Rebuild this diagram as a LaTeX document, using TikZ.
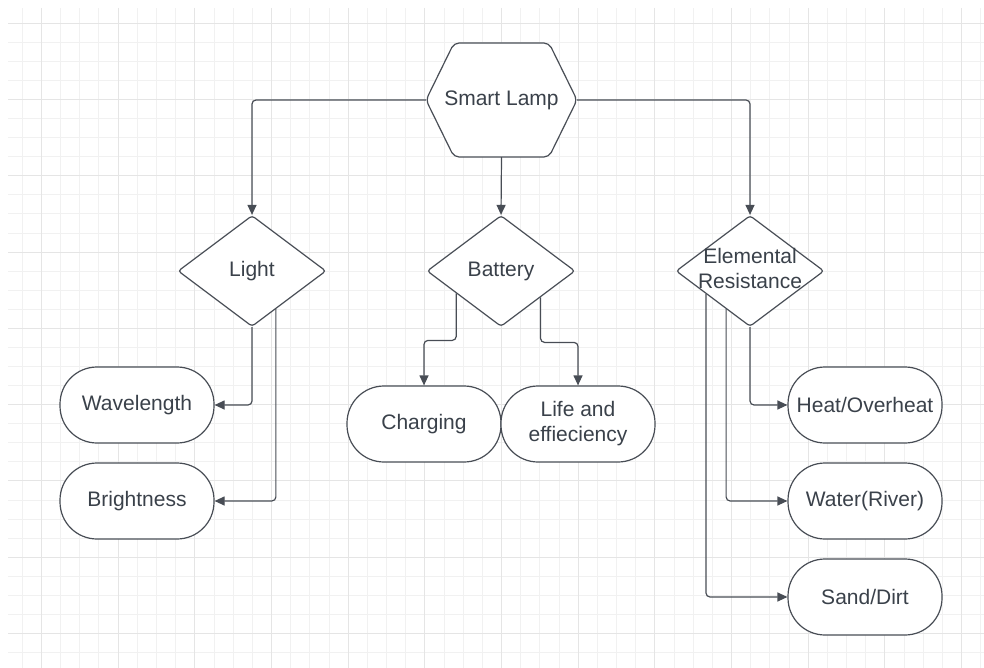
\documentclass[tikz,border=0pt]{standalone}
\usepackage{fontspec}
\setmainfont{Liberation Sans}
\usetikzlibrary{shapes.geometric,arrows.meta,calc}
\definecolor{gridminor}{RGB}{241,241,241}
\definecolor{gridmajor}{RGB}{229,229,229}
\definecolor{edgegray}{RGB}{72,77,85}
\definecolor{textgray}{RGB}{58,65,74}

\begin{document}
\begin{tikzpicture}[x=1pt,y=-1pt,
  every node/.style={font=\fontsize{21}{25}\selectfont,text=textgray},
  outline/.style={draw=edgegray,line width=1.2pt,fill=white},
  hexnode/.style={minimum width=151,minimum height=114,inner sep=0pt},
  choice/.style={outline,diamond,aspect=1.33,minimum width=148,minimum height=111,
    inner sep=0pt,rounded corners=3},
  pill/.style={outline,rectangle,rounded corners=37,minimum width=154,
    minimum height=76,inner sep=0pt},
  link/.style={draw=edgegray,line width=1.2pt,rounded corners=4,
    -{Triangle[length=10,width=9]}}]
  \useasboundingbox (0,0) rectangle (984,668);
  % paper grid
  \foreach \x in {22.3,41.47,...,984}
    \draw[gridminor,line width=1] (\x,8) -- (\x,668);
  \foreach \y in {23.3,42.37,...,668}
    \draw[gridminor,line width=1] (8,\y) -- (984,\y);
  \foreach \x in {41.47,118.15,...,984}
    \draw[gridmajor,line width=1] (\x,8) -- (\x,668);
  \foreach \y in {23.3,99.58,...,668}
    \draw[gridmajor,line width=1] (8,\y) -- (984,\y);

  \draw[outline,rounded corners=5] (426,100) -- (454,43) -- (549,43) -- (577,100)
    -- (549,157) -- (454,157) -- cycle;
  \node[hexnode] (lamp) at (501.5,100) {Smart Lamp};

  \node[choice] (light) at (252,271) {Light};
  \node[choice] (batt) at (501,271) {Battery};
  \node[choice] (elem) at (750,271)
    {\makebox[0pt]{\begin{tabular}{@{}c@{}}Elemental\\Resistance\end{tabular}}};

  \node[pill] (wave) at (137,405) {Wavelength};
  \node[pill] (bright) at (137,501) {Brightness};
  \node[pill] (charge) at (424,424) {Charging};
  \node[pill,align=center] (life) at (578,424) {Life and\\effieciency};
  \node[pill] (heat) at (865,405) {Heat/Overheat};
  \node[pill] (water) at (865,501) {Water(River)};
  \node[pill] (sand) at (865,597) {Sand/Dirt};

  \coordinate (lightr) at ($(light.south)!0.32!(light.east)$);
  \coordinate (battl) at ($(batt.south)!0.6!(batt.west)$);
  \coordinate (battr) at ($(batt.south)!0.53!(batt.east)$);
  \coordinate (elemm) at ($(elem.south)!0.32!(elem.west)$);
  \coordinate (eleml) at ($(elem.south)!0.59!(elem.west)$);

  \draw[link] (lamp.west) -| (light.north);
  \draw[link] (lamp.south) -- (batt.north);
  \draw[link] (lamp.east) -| (elem.north);
  \draw[link] (light.south) |- (wave.east);
  \draw[link] (lightr) |- (bright.east);
  \draw[link] (battl) |- ($(charge.north)+(0,-45)$) -- (charge.north);
  \draw[link] (battr) |- ($(life.north)+(0,-43)$) -- (life.north);
  \draw[link] (elem.south) |- (heat.west);
  \draw[link] (elemm) |- (water.west);
  \draw[link] (eleml) |- (sand.west);
\end{tikzpicture}
\end{document}
